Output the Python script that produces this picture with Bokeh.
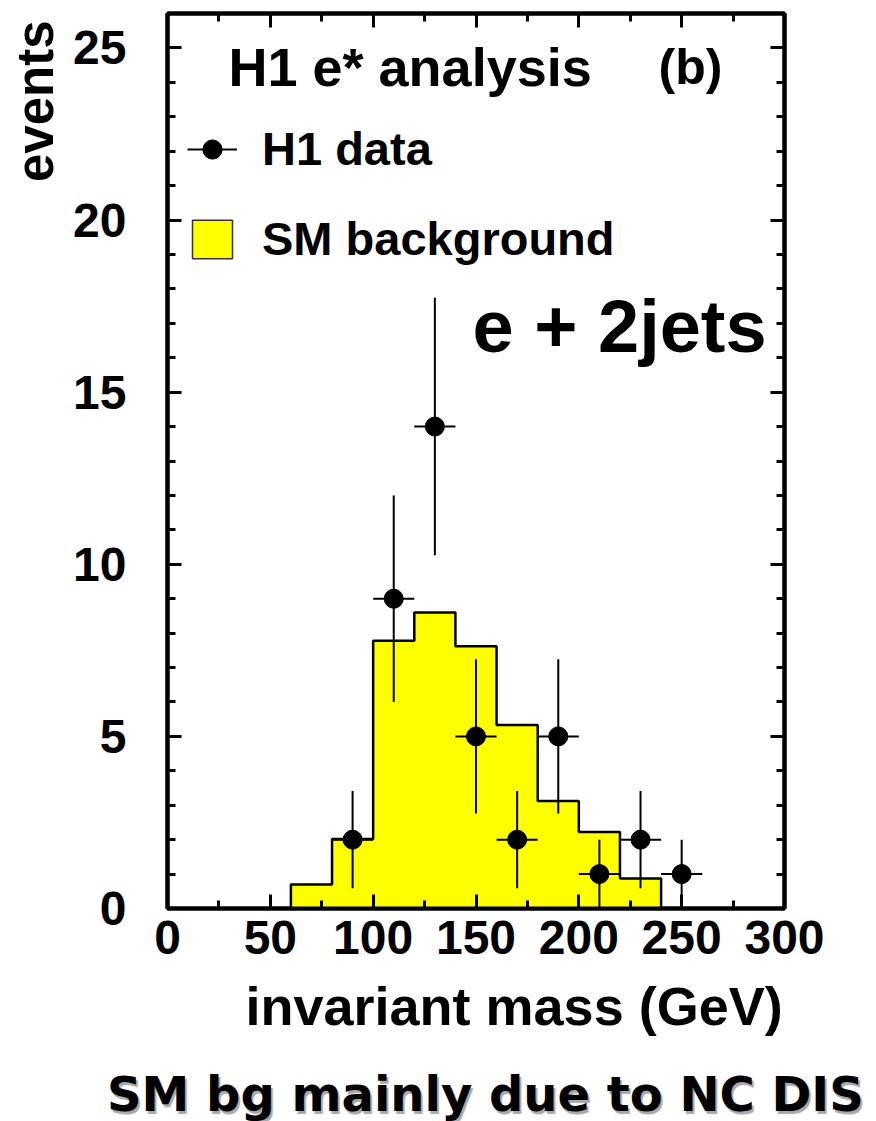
from bokeh.plotting import figure
from bokeh.layouts import column
from bokeh.models import (Range1d, LinearAxis, SingleIntervalTicker, Label,
                          Legend, LegendItem, Title, CustomJSTickFormatter, Div)
from bokeh.embed import file_html
from bokeh.resources import INLINE

# ---- data ----
bin_lo = [60, 80, 100, 120, 140, 160, 180, 200, 220]
bin_hi = [80, 100, 120, 140, 160, 180, 200, 220, 240]
sm_bg = [0.70, 2.02, 7.78, 8.60, 7.62, 5.33, 3.12, 2.22, 0.87]

data_x = [90, 110, 130, 150, 170, 190, 210, 230, 250]
data_y = [2, 9, 14, 5, 2, 5, 1, 2, 1]
data_err = [1.41, 3.00, 3.74, 2.24, 1.41, 2.24, 1.00, 1.41, 1.00]
data_xerr = [10, 10, 10, 10, 10, 10, 10, 10, 10]

FONT = "Liberation Sans"
FIG_H = 1072

p = figure(width=876, height=FIG_H, x_range=Range1d(0, 300), y_range=Range1d(0, 26),
           output_backend="svg", toolbar_location=None,
           min_border_left=167, min_border_right=92, min_border_top=13,
           min_border_bottom=FIG_H - 908)
p.grid.visible = False
p.outline_line_color = "black"
p.outline_line_width = 4
p.background_fill_color = "white"
p.border_fill_color = "white"


def style_axis(ax, labels=True):
    ax.axis_line_width = 4
    ax.axis_line_color = "black"
    ax.major_tick_in = 14
    ax.major_tick_out = 0
    ax.minor_tick_in = 8
    ax.minor_tick_out = 0
    ax.major_tick_line_width = 3
    ax.minor_tick_line_width = 3
    ax.major_tick_line_color = "black"
    ax.minor_tick_line_color = "black"
    if labels:
        ax.major_label_text_font = FONT
        ax.major_label_text_font_style = "bold"
        ax.major_label_text_font_size = "48px"
        ax.major_label_text_color = "black"
    else:
        ax.formatter = CustomJSTickFormatter(code="return ''")
        ax.major_label_standoff = 0


xa = p.xaxis[0]
xa.ticker = SingleIntervalTicker(interval=50, num_minor_ticks=2)
style_axis(xa)
xa.major_label_standoff = 12

ya = p.yaxis[0]
ya.ticker = SingleIntervalTicker(interval=5, num_minor_ticks=5)
style_axis(ya)
ya.major_label_standoff = 41

top = LinearAxis(ticker=SingleIntervalTicker(interval=50, num_minor_ticks=2))
style_axis(top, labels=False)
p.add_layout(top, "above")
right = LinearAxis(ticker=SingleIntervalTicker(interval=5, num_minor_ticks=5))
style_axis(right, labels=False)
p.add_layout(right, "right")

# ---- SM background histogram ----
p.quad(left=bin_lo, right=bin_hi, bottom=0, top=sm_bg,
       fill_color="#ffff00", line_color="#ffff00", line_width=1)
step_x = [bin_lo[0]]
step_y = [0]
for lo, hi, h in zip(bin_lo, bin_hi, sm_bg):
    step_x += [lo, hi]
    step_y += [h, h]
step_x.append(bin_hi[-1])
step_y.append(0)
p.line(step_x, step_y, line_color="black", line_width=2.5)

# legend-only proxy for the histogram (yellow box with dark border)
bg_proxy = p.quad(left=bin_lo, right=bin_hi, bottom=0, top=sm_bg,
                  fill_color="#ffff00", line_color="#333333", line_width=1.5,
                  visible=False)

# ---- H1 data points ----
v_seg = p.segment(x0=data_x, y0=[y - e for y, e in zip(data_y, data_err)],
                  x1=data_x, y1=[y + e for y, e in zip(data_y, data_err)],
                  line_color="black", line_width=2)
h_seg = p.segment(x0=[x - w for x, w in zip(data_x, data_xerr)], y0=data_y,
                  x1=[x + w for x, w in zip(data_x, data_xerr)], y1=data_y,
                  line_color="black", line_width=2)
pts = p.scatter(data_x, data_y, size=19, marker="circle",
                fill_color="black", line_color="black")

legend = Legend(items=[LegendItem(label="H1 data", renderers=[h_seg, pts]),
                       LegendItem(label="SM background", renderers=[bg_proxy])],
                location=(20, 642), padding=0, margin=0, spacing=35,
                glyph_width=50, glyph_height=48, label_height=48,
                label_standoff=25, border_line_color=None,
                background_fill_alpha=0,
                label_text_font=FONT, label_text_font_style="bold",
                label_text_font_size="47px", label_text_color="black")
p.add_layout(legend)


def add_label(text, x, y, size):
    p.add_layout(Label(x=x, y=y, x_units="screen", y_units="screen", text=text,
                       text_font=FONT, text_font_style="bold",
                       text_font_size=size, text_align="left",
                       text_baseline="middle", text_color="black"))


add_label("H1 e* analysis", 61, 842, "54px")
add_label("(b)", 491, 842, "50px")
add_label("e + 2jets", 305, 582, "74px")

# axis titles as side-panel titles
p.add_layout(Title(text="events", align="right", offset=7, standoff=10,
                   vertical_align="top",
                   text_font=FONT, text_font_style="bold",
                   text_font_size="51px", text_color="black"), "left")
p.add_layout(Title(text="invariant mass (GeV)", align="left", offset=78,
                   standoff=34, text_font=FONT, text_font_style="bold",
                   text_font_size="54px", text_color="black"), "below")

footer = Div(
    text=("<div style=\"font-family:'DejaVu Sans',sans-serif;font-weight:bold;"
          "font-size:48px;line-height:49px;color:black;white-space:nowrap;"
          "margin-left:107px;margin-top:-2px;"
          "text-shadow:2px 3px 1px #a8a8a8;\">SM bg mainly due to NC DIS</div>"),
    width=876, height=1121 - FIG_H, margin=0)

layout = column(p, footer, spacing=0)
open("out.html", "w").write(file_html(layout, INLINE))
